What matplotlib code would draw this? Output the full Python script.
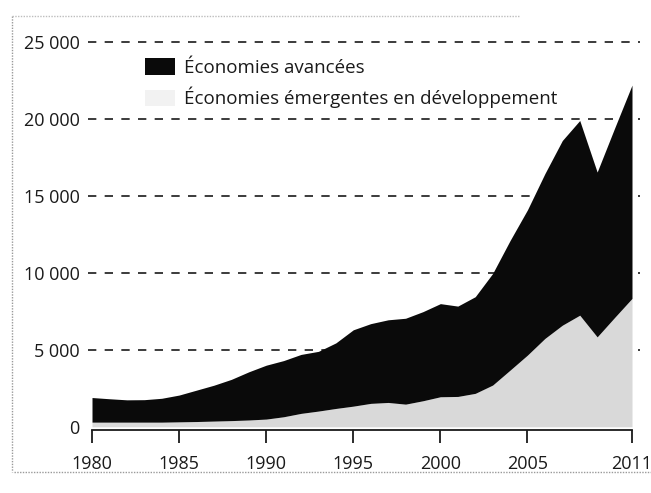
import numpy as np
import matplotlib.pyplot as plt
from matplotlib.patches import Patch
from matplotlib.lines import Line2D

plt.rcParams['font.family'] = ['Open Sans', 'DejaVu Sans']

# données
annees = np.arange(1980, 2012)
emergentes = [300, 300, 300, 300, 300, 320, 340, 370, 400, 440,
              500, 650, 870, 1020, 1190, 1340, 1520, 1580, 1470, 1690,
              1950, 1970, 2170, 2710, 3680, 4660, 5740, 6600, 7250, 5840,
              7100, 8340]
avancees = [1600, 1520, 1450, 1460, 1550, 1740, 2040, 2330, 2680, 3130,
            3500, 3650, 3830, 3880, 4260, 4960, 5180, 5370, 5580, 5790,
            6050, 5870, 6280, 7250, 8420, 9440, 10710, 12000, 12650, 10710,
            12300, 13860]
labels = ['Économies avancées', 'Économies émergentes en développement']
yticks = [0, 5000, 10000, 15000, 20000, 25000]
ytick_labels = ['0', '5 000', '10 000', '15 000', '20 000', '25 000']
xticks = [1980, 1985, 1990, 1995, 2000, 2005, 2011]

W, H = 651, 493
fig = plt.figure(figsize=(W / 100, H / 100), dpi=100)
# axe : 1980 -> x=92 px, 2011 -> x=632 px ; 25000 -> y=42 px, -600 -> y=436 px
ax = fig.add_axes([92 / W, (H - 436) / H, 540 / W, 394 / H])
ax.set_xlim(1980, 2011)
ax.set_ylim(-600, 25000)

em = np.array(emergentes)
tot = em + np.array(avancees)
ax.fill_between(annees, 0, em, color='#d9d9d9', lw=0)
ax.fill_between(annees, em, tot, color='#0a0a0a', lw=0)

# lignes pointillées horizontales
for v in yticks[1:]:
    ax.plot([1979.75, 2011.45], [v, v], color='#1a1a1a', lw=1.2,
            dashes=(5, 5), clip_on=False, zorder=0)

ax.set_yticks(yticks)
ax.set_yticklabels(ytick_labels)
ax.tick_params(axis='y', length=0, pad=9, labelsize=13, labelcolor='#1a1a1a')

ax.set_xticks(xticks)
ax.set_xticklabels([str(x) for x in xticks])
ax.tick_params(axis='x', direction='out', length=9, width=1.3, pad=9,
               labelsize=13, labelcolor='#1a1a1a', color='#1a1a1a')

for s in ['top', 'right', 'left']:
    ax.spines[s].set_visible(False)
ax.spines['bottom'].set_position(('data', -220))
ax.spines['bottom'].set_linewidth(1.3)
ax.spines['bottom'].set_color('#1a1a1a')
ax.patch.set_alpha(0)

handles = [Patch(facecolor='#0a0a0a', edgecolor='none'),
           Patch(facecolor='#f2f2f2', edgecolor='none')]
ax.legend(handles, labels, loc='upper left', bbox_to_anchor=(0.098, 0.96),
          frameon=False, fontsize=13.5, handlelength=1.6, handleheight=1.0,
          handletextpad=0.5, labelspacing=0.55, borderpad=0, borderaxespad=0,
          labelcolor='#1a1a1a')

# bord pointillé du scan
fig.add_artist(Line2D([12 / W, 12 / W], [1 - 16 / H, 1 - 472 / H], color='#9a9a9a',
                      lw=1, ls=(0, (1, 1)), transform=fig.transFigure))
fig.add_artist(Line2D([12 / W, 520 / W], [1 - 16 / H, 1 - 16 / H], color='#bdbdbd',
                      lw=1, ls=(0, (1, 1)), transform=fig.transFigure))
fig.add_artist(Line2D([14 / W, 651 / W], [1 - 472 / H, 1 - 472 / H], color='#9a9a9a',
                      lw=1, ls=(0, (1, 1)), transform=fig.transFigure))

fig.savefig('out.png', dpi=100)
